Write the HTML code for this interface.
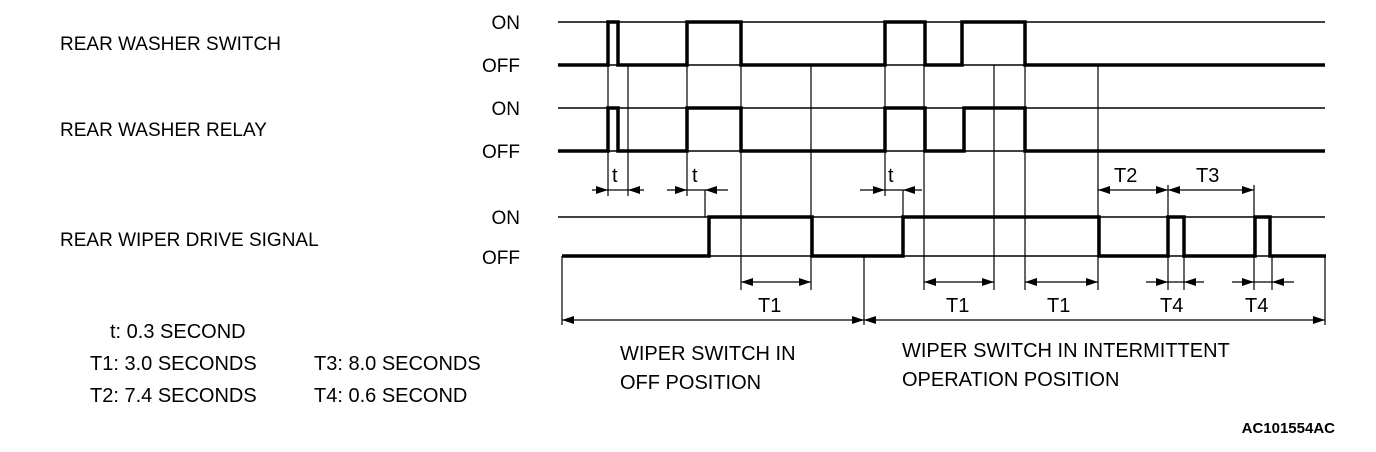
<!DOCTYPE html>
<html><head><meta charset="utf-8"><style>
html,body{margin:0;padding:0;background:#fff;}
svg{display:block;}
text{font-family:"Liberation Sans",Arial,sans-serif;fill:#000;}
</style></head><body>
<svg width="1376" height="452" viewBox="0 0 1376 452" xmlns="http://www.w3.org/2000/svg">
<g font-size="19">
<text x="60" y="50">REAR WASHER SWITCH</text>
<text x="60" y="136">REAR WASHER RELAY</text>
<text x="60" y="246">REAR WIPER DRIVE SIGNAL</text>
</g>
<g font-size="19" text-anchor="end">
<text x="520" y="29">ON</text><text x="520" y="72">OFF</text>
<text x="520" y="115">ON</text><text x="520" y="158">OFF</text>
<text x="520" y="224">ON</text><text x="520" y="264">OFF</text>
</g>
<!-- thin ON reference lines -->
<g stroke="#000" stroke-width="1.5" fill="none">
<line x1="558" y1="22" x2="1325" y2="22"/>
<line x1="558" y1="108" x2="1325" y2="108"/>
<line x1="558" y1="217" x2="1325" y2="217"/>
<line x1="558" y1="65" x2="1325" y2="65"/>
<line x1="558" y1="151" x2="1325" y2="151"/>
<line x1="562" y1="256" x2="1325" y2="256"/>
</g>
<!-- thin verticals -->
<g stroke="#000" stroke-width="1.2" fill="none">
<line x1="608" y1="65" x2="608" y2="196"/>
<line x1="628" y1="65" x2="628" y2="196"/>
<line x1="687" y1="65" x2="687" y2="196"/>
<line x1="705" y1="190" x2="705" y2="217"/>
<line x1="741" y1="65" x2="741" y2="290"/>
<line x1="811" y1="65" x2="811" y2="290"/>
<line x1="864" y1="256" x2="864" y2="325"/>
<line x1="885" y1="65" x2="885" y2="196"/>
<line x1="903" y1="190" x2="903" y2="217"/>
<line x1="924" y1="65" x2="924" y2="290"/>
<line x1="994" y1="65" x2="994" y2="290"/>
<line x1="1025" y1="65" x2="1025" y2="290"/>
<line x1="1098" y1="65" x2="1098" y2="290"/>
<line x1="1168" y1="185" x2="1168" y2="290"/>
<line x1="1184" y1="256" x2="1184" y2="290"/>
<line x1="1254" y1="185" x2="1254" y2="290"/>
<line x1="1272" y1="256" x2="1272" y2="290"/>
<line x1="1325" y1="256" x2="1325" y2="325"/>
<line x1="562" y1="256" x2="562" y2="325"/>
<!-- dimension lines -->
<line x1="592" y1="190" x2="644" y2="190"/>
<line x1="667" y1="190" x2="728" y2="190"/>
<line x1="860" y1="190" x2="922" y2="190"/>
<line x1="741" y1="282" x2="811" y2="282"/>
<line x1="924" y1="282" x2="994" y2="282"/>
<line x1="1025" y1="282" x2="1098" y2="282"/>
<line x1="1098" y1="190" x2="1168" y2="190"/>
<line x1="1168" y1="190" x2="1254" y2="190"/>
<line x1="1146" y1="282" x2="1204" y2="282"/>
<line x1="1232" y1="282" x2="1294" y2="282"/>
<line x1="562" y1="320" x2="1325" y2="320"/>
</g>
<!-- arrowheads -->
<g fill="#000">
<!-- right-pointing: tip at x -->
<polygon points="596,186 608,190 596,194"/>
<polygon points="675,186 687,190 675,194"/>
<polygon points="873,186 885,190 873,194"/>
<polygon points="799,278 811,282 799,286"/>
<polygon points="982,278 994,282 982,286"/>
<polygon points="1086,278 1098,282 1086,286"/>
<polygon points="1156,186 1168,190 1156,194"/>
<polygon points="1242,186 1254,190 1242,194"/>
<polygon points="1156,278 1168,282 1156,286"/>
<polygon points="1242,278 1254,282 1242,286"/>
<polygon points="852,316 864,320 852,324"/>
<polygon points="1313,316 1325,320 1313,324"/>
<!-- left-pointing -->
<polygon points="640,186 628,190 640,194"/>
<polygon points="717,186 705,190 717,194"/>
<polygon points="915,186 903,190 915,194"/>
<polygon points="753,278 741,282 753,286"/>
<polygon points="936,278 924,282 936,286"/>
<polygon points="1037,278 1025,282 1037,286"/>
<polygon points="1110,186 1098,190 1110,194"/>
<polygon points="1180,186 1168,190 1180,194"/>
<polygon points="1196,278 1184,282 1196,286"/>
<polygon points="1284,278 1272,282 1284,286"/>
<polygon points="574,316 562,320 574,324"/>
<polygon points="876,316 864,320 876,324"/>
</g>
<!-- thick waveforms -->
<g stroke="#000" stroke-width="3.5" fill="none" stroke-linejoin="miter">
<polyline points="558,65 608,65 608,22 618,22 618,65 687,65 687,22 741,22 741,65 885,65 885,22 925,22 925,65 962,65 962,22 1025,22 1025,65 1325,65"/>
<polyline points="558,151 608,151 608,108 618,108 618,151 687,151 687,108 741,108 741,151 885,151 885,108 925,108 925,151 964,151 964,108 1025,108 1025,151 1325,151"/>
<polyline points="562,256 709,256 709,217 812,217 812,256 903,256 903,217 1099,217 1099,256 1168,256 1168,217 1184,217 1184,256 1255,256 1255,217 1270,217 1270,256 1326,256"/>
</g>
<g font-size="20">
<text x="612" y="182">t</text>
<text x="692" y="182">t</text>
<text x="888" y="182">t</text>
<text x="1114" y="182">T2</text>
<text x="1196" y="182">T3</text>
<text x="758" y="312">T1</text>
<text x="946" y="312">T1</text>
<text x="1047" y="312">T1</text>
<text x="1160" y="312">T4</text>
<text x="1245" y="312">T4</text>
</g>
<g font-size="20">
<text x="620" y="360">WIPER SWITCH IN</text>
<text x="620" y="389">OFF POSITION</text>
<text x="902" y="357">WIPER SWITCH IN INTERMITTENT</text>
<text x="902" y="386">OPERATION POSITION</text>
<text x="110" y="338">t: 0.3 SECOND</text>
<text x="90" y="370">T1: 3.0 SECONDS</text>
<text x="90" y="402">T2: 7.4 SECONDS</text>
<text x="314" y="370">T3: 8.0 SECONDS</text>
<text x="314" y="402">T4: 0.6 SECOND</text>
</g>
<text x="1335" y="433" font-size="15" font-weight="bold" text-anchor="end">AC101554AC</text>
</svg>
</body></html>
